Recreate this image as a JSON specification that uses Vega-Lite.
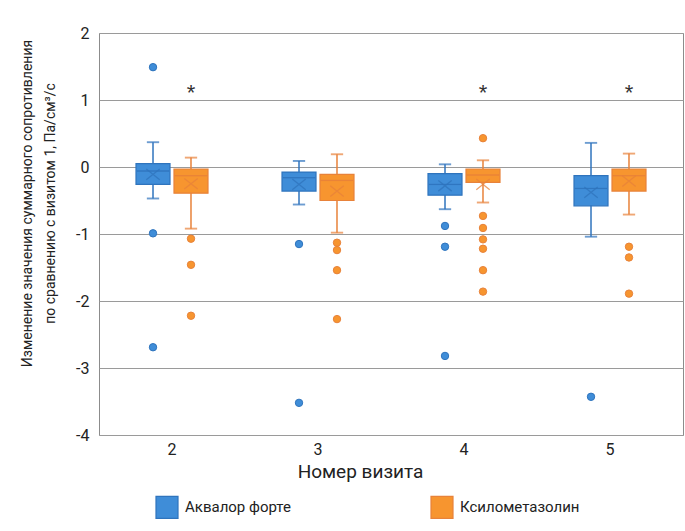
{
  "$schema": "https://vega.github.io/schema/vega-lite/v6.json",
  "width": 584,
  "height": 402,
  "autosize": {"type": "none"},
  "padding": {"left": 99, "top": 33, "right": 2, "bottom": 96},
  "background": "white",
  "config": {
    "font": "Roboto",
    "view": {"stroke": "#8c8c8c", "strokeWidth": 1},
    "axis": {"labelFont": "Roboto", "titleFont": "Roboto", "labelColor": "#222", "titleColor": "#222", "titleFontWeight": "normal"},
    "legend": {
      "title": null, "orient": "none", "legendX": 56, "legendY": 462, "direction": "horizontal",
      "symbolType": "square", "symbolSize": 484, "symbolStrokeWidth": 1.2, "symbolOpacity": 1,
      "labelFontSize": 15, "labelFont": "Roboto", "labelColor": "#222", "labelOffset": 6,
      "columnPadding": 137, "padding": 0
    }
  },
  "datasets": {
    "stats": [
      {"visit": "2", "group": "Аквалор форте", "lo": -0.47, "q1": -0.26, "med": -0.06, "q3": 0.05, "hi": 0.37, "mean": -0.11},
      {"visit": "2", "group": "Ксилометазолин", "lo": -0.92, "q1": -0.39, "med": -0.13, "q3": -0.03, "hi": 0.14, "mean": -0.25},
      {"visit": "3", "group": "Аквалор форте", "lo": -0.56, "q1": -0.36, "med": -0.16, "q3": -0.075, "hi": 0.09, "mean": -0.26},
      {"visit": "3", "group": "Ксилометазолин", "lo": -0.98, "q1": -0.5, "med": -0.2, "q3": -0.11, "hi": 0.19, "mean": -0.36},
      {"visit": "4", "group": "Аквалор форте", "lo": -0.63, "q1": -0.42, "med": -0.26, "q3": -0.1, "hi": 0.04, "mean": -0.28},
      {"visit": "4", "group": "Ксилометазолин", "lo": -0.53, "q1": -0.23, "med": -0.12, "q3": -0.03, "hi": 0.1, "mean": -0.26},
      {"visit": "5", "group": "Аквалор форте", "lo": -1.04, "q1": -0.58, "med": -0.32, "q3": -0.13, "hi": 0.36, "mean": -0.38},
      {"visit": "5", "group": "Ксилометазолин", "lo": -0.71, "q1": -0.36, "med": -0.13, "q3": -0.03, "hi": 0.2, "mean": -0.21}
    ],
    "out": [
      {"visit": "2", "group": "Аквалор форте", "value": 1.49},
      {"visit": "2", "group": "Аквалор форте", "value": -0.99},
      {"visit": "2", "group": "Аквалор форте", "value": -2.69},
      {"visit": "2", "group": "Ксилометазолин", "value": -1.07},
      {"visit": "2", "group": "Ксилометазолин", "value": -1.46},
      {"visit": "2", "group": "Ксилометазолин", "value": -2.22},
      {"visit": "3", "group": "Аквалор форте", "value": -1.15},
      {"visit": "3", "group": "Аквалор форте", "value": -3.52},
      {"visit": "3", "group": "Ксилометазолин", "value": -1.13},
      {"visit": "3", "group": "Ксилометазолин", "value": -1.24},
      {"visit": "3", "group": "Ксилометазолин", "value": -1.54},
      {"visit": "3", "group": "Ксилометазолин", "value": -2.27},
      {"visit": "4", "group": "Аквалор форте", "value": -0.88},
      {"visit": "4", "group": "Аквалор форте", "value": -1.19},
      {"visit": "4", "group": "Аквалор форте", "value": -2.82},
      {"visit": "4", "group": "Ксилометазолин", "value": 0.43},
      {"visit": "4", "group": "Ксилометазолин", "value": -0.73},
      {"visit": "4", "group": "Ксилометазолин", "value": -0.91},
      {"visit": "4", "group": "Ксилометазолин", "value": -1.08},
      {"visit": "4", "group": "Ксилометазолин", "value": -1.22},
      {"visit": "4", "group": "Ксилометазолин", "value": -1.54},
      {"visit": "4", "group": "Ксилометазолин", "value": -1.86},
      {"visit": "5", "group": "Аквалор форте", "value": -3.43},
      {"visit": "5", "group": "Ксилометазолин", "value": -1.19},
      {"visit": "5", "group": "Ксилометазолин", "value": -1.35},
      {"visit": "5", "group": "Ксилометазолин", "value": -1.89}
    ],
    "star": [
      {"visit": "2", "group": "Ксилометазолин", "y": 1.1, "label": "*"},
      {"visit": "4", "group": "Ксилометазолин", "y": 1.1, "label": "*"},
      {"visit": "5", "group": "Ксилометазолин", "y": 1.1, "label": "*"}
    ]
  },
  "encoding": {
    "x": {
      "field": "visit", "type": "nominal",
      "scale": {"domain": ["2", "3", "4", "5"], "paddingInner": 0, "paddingOuter": 0},
      "axis": {
        "title": "Номер визита", "titleFontSize": 19, "labelFontSize": 16, "labelAngle": 0,
        "ticks": false, "domain": false, "labelPadding": 6,
        "titleX": 261, "titleY": 42, "titleAlign": "center", "titleBaseline": "alphabetic",
        "encode": {"labels": {"update": {"dx": {"signal": "-5 - 15.6 * (toNumber(datum.value) - 2)"}}}}
      }
    },
    "xOffset": {
      "field": "group", "type": "nominal",
      "scale": {"domain": ["Аквалор форте", "Ксилометазолин"], "paddingInner": 0.105, "paddingOuter": 0.974}
    }
  },
  "layer": [
    {
      "data": {"name": "stats"},
      "mark": {"type": "rule", "strokeWidth": 1.5},
      "encoding": {
        "y": {"field": "lo", "type": "quantitative", "scale": {"domain": [-4, 2], "nice": false, "zero": false},
          "axis": {
            "values": [-4, -3, -2, -1, 0, 1, 2], "grid": true, "gridColor": "#9a9a9a", "gridWidth": 1,
            "ticks": false, "domain": false, "labelFontSize": 16, "labelPadding": 10,
            "labelExpr": "'' + datum.value",
            "title": ["Изменение значения суммарного сопротивления", "по сравнению с визитом 1, Па/см³/с"],
            "titleFontSize": 14, "titleLineHeight": 23, "titleX": -68, "titleY": 170,
            "titleAngle": -90, "titleAlign": "center", "titleBaseline": "alphabetic"
          }},
        "y2": {"field": "hi"},
        "stroke": {"field": "group", "type": "nominal", "scale": {"domain": ["Аквалор форте", "Ксилометазолин"], "range": ["#2f74bd", "#e8823a"]}}
      }
    },
    {
      "data": {"name": "stats"},
      "mark": {"type": "tick", "size": 11, "thickness": 0.6, "filled": false, "strokeWidth": 1.3},
      "encoding": {
        "y": {"field": "lo", "type": "quantitative"},
        "stroke": {"field": "group", "type": "nominal"}
      }
    },
    {
      "data": {"name": "stats"},
      "mark": {"type": "tick", "size": 11, "thickness": 0.6, "filled": false, "strokeWidth": 1.3},
      "encoding": {
        "y": {"field": "hi", "type": "quantitative"},
        "stroke": {"field": "group", "type": "nominal"}
      }
    },
    {
      "data": {"name": "stats"},
      "mark": {"type": "bar", "strokeWidth": 1.2},
      "encoding": {
        "y": {"field": "q1", "type": "quantitative"},
        "y2": {"field": "q3"},
        "fill": {
          "field": "group", "type": "nominal",
          "scale": {"domain": ["Аквалор форте", "Ксилометазолин"], "range": ["#3f8dd8", "#f7952f"]}
        },
        "stroke": {"field": "group", "type": "nominal"}
      }
    },
    {
      "data": {"name": "stats"},
      "mark": {"type": "tick", "size": 32, "thickness": 0.3, "filled": false, "strokeWidth": 1, "opacity": 0.75},
      "encoding": {
        "y": {"field": "med", "type": "quantitative"},
        "stroke": {"field": "group", "type": "nominal"}
      }
    },
    {
      "data": {"name": "stats"},
      "mark": {"type": "point", "shape": "M-1,-0.8L1,0.8M-1,0.8L1,-0.8", "filled": false, "size": 180, "strokeWidth": 1.3, "opacity": 0.75},
      "encoding": {
        "y": {"field": "mean", "type": "quantitative"},
        "stroke": {"field": "group", "type": "nominal"}
      }
    },
    {
      "data": {"name": "out"},
      "mark": {"type": "circle", "size": 55, "opacity": 1, "strokeWidth": 1},
      "encoding": {
        "y": {"field": "value", "type": "quantitative"},
        "fill": {"field": "group", "type": "nominal"},
        "stroke": {"field": "group", "type": "nominal"}
      }
    },
    {
      "data": {"name": "star"},
      "mark": {"type": "text", "fontSize": 22, "color": "#333", "baseline": "middle", "font": "Liberation Sans"},
      "encoding": {
        "y": {"field": "y", "type": "quantitative"},
        "text": {"field": "label"}
      }
    }
  ]
}
